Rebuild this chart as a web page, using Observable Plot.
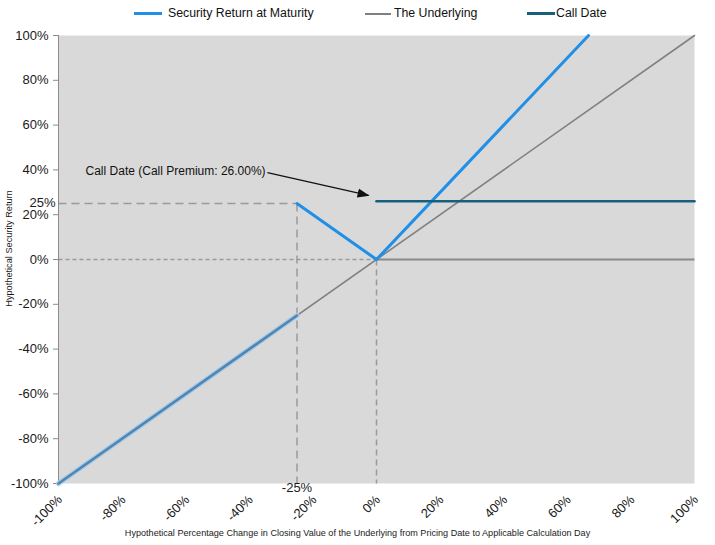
<!DOCTYPE html>
<html>
<head>
<meta charset="utf-8">
<script src="https://cdn.jsdelivr.net/npm/d3@7"></script>
<script src="https://cdn.jsdelivr.net/npm/@observablehq/plot@0.6"></script>
<style>
  body { margin: 0; background: #fff; font-family: "Liberation Sans", Arial, sans-serif; }
  #wrap { position: relative; width: 715px; }
  #legend { position: relative; height: 26px; font-size: 12.3px; color: #111; }
  .sw { position: absolute; top: 12px; height: 3px; }
  .lt { position: absolute; top: 5.5px; white-space: nowrap; }
</style>
</head>
<body>
<div id="wrap">
  <div id="legend">
    <div class="sw" style="left:134px;width:28px;background:#1f8fe8;"></div>
    <div class="lt" style="left:168px;">Security Return at Maturity</div>
    <div class="sw" style="left:365px;width:26px;height:2px;top:12.5px;background:#808080;"></div>
    <div class="lt" style="left:394px;">The Underlying</div>
    <div class="sw" style="left:527px;width:28px;background:#17607d;"></div>
    <div class="lt" style="left:556px;">Call Date</div>
  </div>
  <div id="chart"></div>
</div>
<script>
// ---- data (percent) ----
const ticks = [-100, -80, -60, -40, -20, 0, 20, 40, 60, 80, 100];
const securityLowX = [-100, -25];
const securityLowY = [-100, -25];
const securityUpX = [-25, 0, 66.67];
const securityUpY = [25, 0, 100];
const underlyingX = [-100, 100];
const underlyingY = [-100, 100];
const callDateX = [0, 100];
const callDateY = [26, 26];
const barrier = -25;       // threshold on x
const barrierReturn = 25;  // return at threshold
const annotationText = "Call Date (Call Premium: 26.00%)";
const annotationAt = {x: -91.5, y: 39.6};
const arrowFrom = {x: -34.3, y: 38.8};
const arrowTo = {x: -2.5, y: 28.6};

const pct = d => d + "%";
const rows = (xs, ys) => xs.map((x, i) => ({x, y: ys[i]}));

function filledArrow(color) {
  const m = d3.create("svg:marker")
    .attr("viewBox", "-6 -5 12 10")
    .attr("markerWidth", 12)
    .attr("markerHeight", 10)
    .attr("markerUnits", "userSpaceOnUse")
    .attr("refX", 5)
    .attr("refY", 0)
    .attr("orient", "auto");
  m.append("path").attr("d", "M-6,-4.5L6,0L-6,4.5Z").attr("fill", color).attr("stroke", "none");
  return m.node();
}

const chart = Plot.plot({
  width: 715,
  height: 519,
  marginTop: 9,
  marginBottom: 62,
  marginLeft: 58,
  marginRight: 21,
  style: {fontFamily: "Liberation Sans, Arial, sans-serif", fontSize: "13px", color: "#1a1a1a", background: "#fff"},
  x: {domain: [-100, 100], ticks: ticks, tickFormat: pct, label: null},
  y: {domain: [-100, 100], ticks: ticks, tickFormat: pct, label: null},
  marks: [
    Plot.frame({fill: "#d9d9d9", stroke: null}),
    // dashed guides
    Plot.link([{x1: -100, y1: barrierReturn, x2: barrier, y2: barrierReturn}], {x1: "x1", y1: "y1", x2: "x2", y2: "y2", stroke: "#9a9a9a", strokeWidth: 1.5, strokeDasharray: "8,5"}),
    Plot.link([{x1: barrier, y1: barrierReturn, x2: barrier, y2: -100}], {x1: "x1", y1: "y1", x2: "x2", y2: "y2", stroke: "#9a9a9a", strokeWidth: 1.5, strokeDasharray: "8,5"}),
    Plot.link([{x1: -100, y1: 0, x2: 0, y2: 0}], {x1: "x1", y1: "y1", x2: "x2", y2: "y2", stroke: "#9a9a9a", strokeWidth: 1.3, strokeDasharray: "4,3"}),
    Plot.link([{x1: 0, y1: 0, x2: 0, y2: -100}], {x1: "x1", y1: "y1", x2: "x2", y2: "y2", stroke: "#9a9a9a", strokeWidth: 1.5, strokeDasharray: "6,4"}),
    Plot.link([{x1: 0, y1: 0, x2: 100, y2: 0}], {x1: "x1", y1: "y1", x2: "x2", y2: "y2", stroke: "#8a8a8a", strokeWidth: 2}),
    // y axis line
    Plot.ruleX([-100], {stroke: "#8c8c8c", strokeWidth: 1}),
    Plot.axisY({ticks: ticks, tickFormat: pct, tickSize: 5, tickPadding: 5, stroke: "#8c8c8c", color: "#1a1a1a", fontSize: 13, label: null}),
    Plot.axisX({ticks: ticks, tickFormat: pct, tickRotate: -45, tickSize: 0, tickPadding: 14, dx: 1.5, color: "#1a1a1a", fontSize: 13, label: null}),
    // lines
    Plot.line(rows(underlyingX, underlyingY), {x: "x", y: "y", stroke: "#808080", strokeWidth: 1.6}),
    Plot.line(rows(securityLowX, securityLowY), {x: "x", y: "y", stroke: "#a8cbe8", strokeWidth: 5}),
    Plot.line(rows(securityLowX, securityLowY), {x: "x", y: "y", stroke: "#4f86b3", strokeWidth: 2.6}),
    Plot.line(rows(securityUpX, securityUpY), {x: "x", y: "y", stroke: "#1f8fe8", strokeWidth: 3}),
    Plot.line(rows(callDateX, callDateY), {x: "x", y: "y", stroke: "#17607d", strokeWidth: 2.6}),
    // labels
    Plot.text([barrierReturn], {x: -100, y: d => d, text: d => d + "%", textAnchor: "end", dx: -3, dy: -1, fontSize: 13, fill: "#1a1a1a"}),
    Plot.text([barrier], {x: d => d, y: -100, text: d => d + "%", dy: 4, fontSize: 13, fill: "#1a1a1a"}),
    Plot.text([annotationText], {x: annotationAt.x, y: annotationAt.y, text: d => d, textAnchor: "start", fontSize: 12, fill: "#111"}),
    Plot.link([{a: arrowFrom, b: arrowTo}], {x1: d => d.a.x, y1: d => d.a.y, x2: d => d.b.x, y2: d => d.b.y, stroke: "#111", strokeWidth: 1.2, markerEnd: filledArrow}),
    // axis titles
    Plot.text(["Hypothetical Security Return"], {frameAnchor: "left", textAnchor: "middle", text: d => d, rotate: -90, dx: -49, dy: -11, fontSize: 9.2, fill: "#1a1a1a"}),
    Plot.text(["Hypothetical Percentage Change in Closing Value of the Underlying from Pricing Date to Applicable Calculation Day"], {frameAnchor: "bottom", text: d => d, dy: 52, dx: -19, fontSize: 9.1, fill: "#1a1a1a"})
  ]
});
document.getElementById("chart").appendChild(chart);
</script>
</body>
</html>
